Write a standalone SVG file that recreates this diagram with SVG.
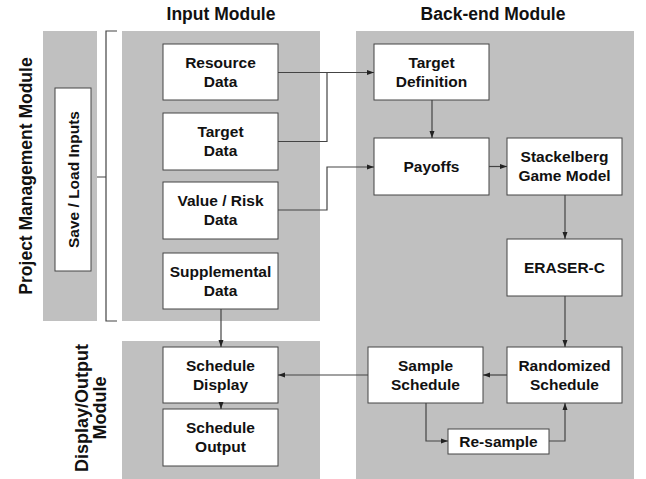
<svg xmlns="http://www.w3.org/2000/svg" width="646" height="479" viewBox="0 0 646 479">
<defs>
<style>
.panel{fill:#c0c0c0;stroke:none}
.box{fill:#ffffff;stroke:#444;stroke-width:1}
.t{font-family:"Liberation Sans",Arial,sans-serif;font-weight:bold;font-size:15.5px;fill:#111;text-anchor:middle}
.h{font-family:"Liberation Sans",Arial,sans-serif;font-weight:bold;font-size:17.5px;fill:#111;text-anchor:middle}
.c{fill:none;stroke:#444;stroke-width:1.2}
</style>
<marker id="arr" markerWidth="8" markerHeight="8" refX="7" refY="4" orient="auto" markerUnits="userSpaceOnUse">
<path d="M0,1.5 L7,4 L0,6.5 Z" fill="#222"/>
</marker>
</defs>
<rect width="646" height="479" fill="#ffffff"/>

<g id="panels">
<rect class="panel" x="43" y="31" width="54" height="290"/>
<rect class="panel" x="122" y="31" width="198" height="290"/>
<rect class="panel" x="122" y="341" width="198" height="138"/>
<rect class="panel" x="356" y="31" width="278" height="448"/>
</g>

<g id="titles">
<text class="h" x="221" y="20">Input Module</text>
<text class="h" x="493" y="20">Back-end Module</text>
<text class="h" transform="translate(32,176) rotate(-90)">Project Management Module</text>
<text class="h" transform="translate(88,408) rotate(-90)" style="font-size:18px">Display/Output</text>
<text class="h" transform="translate(106,408) rotate(-90)" style="font-size:18px">Module</text>
</g>

<g id="bracket">
<path class="c" d="M117,31 H106 V321 H117 M97,177 H106" stroke="#555"/>
</g>

<g id="save-load">
<rect class="box" x="55" y="88" width="36" height="183"/>
<text class="t" transform="translate(78.5,179.5) rotate(-90)">Save / Load Inputs</text>
</g>

<g id="resource-data">
<rect class="box" x="163" y="44" width="115" height="56"/>
<text class="t" x="220.5" y="68">Resource</text>
<text class="t" x="220.5" y="87">Data</text>
</g>
<g id="target-data">
<rect class="box" x="163" y="113" width="115" height="57"/>
<text class="t" x="220.5" y="137">Target</text>
<text class="t" x="220.5" y="156">Data</text>
</g>
<g id="value-risk-data">
<rect class="box" x="163" y="182" width="115" height="57"/>
<text class="t" x="220.5" y="206">Value / Risk</text>
<text class="t" x="220.5" y="225">Data</text>
</g>
<g id="supplemental-data">
<rect class="box" x="163" y="253" width="115" height="56"/>
<text class="t" x="220.5" y="277">Supplemental</text>
<text class="t" x="220.5" y="296">Data</text>
</g>
<g id="schedule-display">
<rect class="box" x="163" y="347" width="115" height="56"/>
<text class="t" x="220.5" y="371">Schedule</text>
<text class="t" x="220.5" y="390">Display</text>
</g>
<g id="schedule-output">
<rect class="box" x="163" y="409" width="115" height="57"/>
<text class="t" x="220.5" y="433">Schedule</text>
<text class="t" x="220.5" y="452">Output</text>
</g>

<g id="target-definition">
<rect class="box" x="374" y="44" width="115" height="56"/>
<text class="t" x="431.5" y="68">Target</text>
<text class="t" x="431.5" y="87">Definition</text>
</g>
<g id="payoffs">
<rect class="box" x="374" y="138" width="115" height="57"/>
<text class="t" x="431.5" y="172">Payoffs</text>
</g>
<g id="stackelberg">
<rect class="box" x="507" y="138" width="115" height="57"/>
<text class="t" x="564.5" y="162">Stackelberg</text>
<text class="t" x="564.5" y="181">Game Model</text>
</g>
<g id="eraser-c">
<rect class="box" x="507" y="239" width="115" height="57"/>
<text class="t" x="564.5" y="273">ERASER-C</text>
</g>
<g id="randomized-schedule">
<rect class="box" x="507" y="347" width="115" height="56"/>
<text class="t" x="564.5" y="371">Randomized</text>
<text class="t" x="564.5" y="390">Schedule</text>
</g>
<g id="sample-schedule">
<rect class="box" x="368" y="347" width="115" height="56"/>
<text class="t" x="425.5" y="371">Sample</text>
<text class="t" x="425.5" y="390">Schedule</text>
</g>
<g id="re-sample">
<rect class="box" x="448" y="429" width="101" height="25"/>
<text class="t" x="498.5" y="447">Re-sample</text>
</g>

<g id="connectors">
<path class="c" d="M278,72.5 H374" marker-end="url(#arr)"/>
<path class="c" d="M278,141.5 H327 V72.5"/>
<path class="c" d="M278,210 H327 V167 H374" marker-end="url(#arr)"/>
<path class="c" d="M432,100 V138" marker-end="url(#arr)"/>
<path class="c" d="M489,166.5 H507" marker-end="url(#arr)"/>
<path class="c" d="M565,195 V239" marker-end="url(#arr)"/>
<path class="c" d="M565,296 V347" marker-end="url(#arr)"/>
<path class="c" d="M507,375 H483" marker-end="url(#arr)"/>
<path class="c" d="M368,375 H278" marker-end="url(#arr)"/>
<path class="c" d="M221,309 V347" marker-end="url(#arr)"/>
<path class="c" d="M221,403 V409" marker-end="url(#arr)"/>
<path class="c" d="M426,403 V441 H448" marker-end="url(#arr)"/>
<path class="c" d="M549,441 H565 V403" marker-end="url(#arr)"/>
</g>
</svg>
